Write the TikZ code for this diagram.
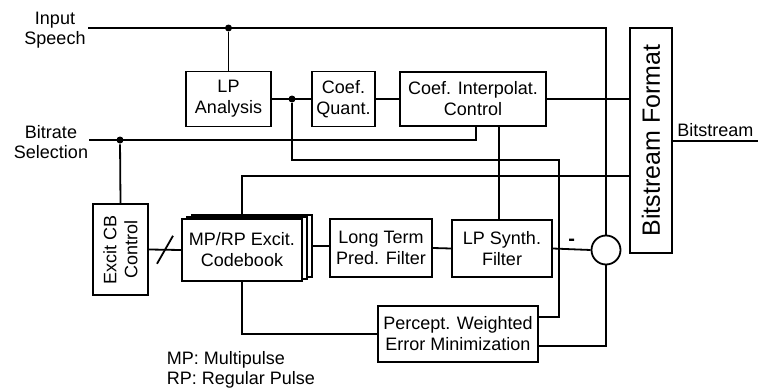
\documentclass[tikz,border=0pt]{standalone}
\usepackage{fontspec}
\setmainfont{Liberation Sans}
\usetikzlibrary{calc}
\begin{document}
\begin{tikzpicture}[x=1pt,y=-1pt,line width=1.8pt,
  box/.style={draw,align=center,inner sep=0pt,font=\fontsize{18}{21}\selectfont},
  lbl/.style={align=center,inner sep=0pt,font=\fontsize{18}{20}\selectfont},
  jdot/.style={circle,fill,inner sep=0pt,minimum size=7pt}]
\useasboundingbox (0,0) rectangle (758,388);
% blocks
\node[box,minimum width=85pt,minimum height=55pt] (lpa) at (228.5,99) {LP\\Analysis};
\node[box,minimum width=63pt,minimum height=55pt] (cq) at (343.5,99) {Coef.\\Quant.};
\node[box,minimum width=146pt,minimum height=54pt] (ci) at (473,99) {Coef. Interpolat.\\Control};
\node[box,rotate=90,minimum width=225pt,minimum height=42pt,font=\fontsize{25}{28}\selectfont] (bf) at (651,140.5) {Bitstream Format};
\node[box,rotate=90,minimum width=91pt,minimum height=55pt] (ex) at (120.5,249.5) {Excit CB\\Control};
\node[box,fill=white,minimum width=120pt,minimum height=62pt] (cbb2) at (252,246) {};
\node[box,fill=white,minimum width=120pt,minimum height=62pt] (cbb1) at (247,248) {};
\node[box,fill=white,minimum width=120pt,minimum height=62pt] (cb) at (242,250) {MP/RP Excit.\\Codebook};
\node[box,minimum width=102pt,minimum height=58pt] (ltp) at (381,248) {Long Term\\Pred. Filter};
\node[box,minimum width=100pt,minimum height=57pt] (lps) at (502,248.5) {LP Synth.\\Filter};
\node[box,minimum width=160pt,minimum height=56pt] (pw) at (458,334) {Percept. Weighted\\Error Minimization};
\node[draw,circle,minimum size=29pt,inner sep=0pt] (sum) at (606,250) {};
% labels
\node[lbl] (lin) at (55,30) {Input\\Speech};
\node[lbl] (lbr) at (51,142) {Bitrate\\Selection};
\node[lbl,align=left,anchor=west] (leg) at (166,370) {MP: Multipulse\\RP: Regular Pulse};
% coordinates
\coordinate (inS) at (88,28);
\coordinate (topR) at (606,28);
\coordinate (brS) at (89,140);
\coordinate (brE) at (476,140);
\coordinate (lpy) at (559,160);
\coordinate (yb) at (0,176);
\coordinate (v1) at (499,0);
\coordinate (bsE) at (758,141);
% connectors
\draw (inS) -- (topR) -- (sum.north);
\node[jdot] (d1) at (lpa.north |- inS) {};
\draw (d1) -- (lpa.north);
\draw (lpa.east) -- (cq.west);
\node[jdot] (d2) at (292,99) {};
\draw (d2) |- (lpy) |- ([yshift=17pt]pw.east);
\draw (cq.east) -- (ci.west);
\draw (ci.east) -- (ci.east -| bf.north);
\draw (brS) -- (brE) -- (brE |- ci.south);
\node[jdot] (d3) at (120,140) {};
\draw (d3) -- (ex.east);
\draw (cb.north |- cbb2.north) -- (cb.north |- yb) -- (yb -| bf.north);
\draw (ex.south) -- (cb.west);
\coordinate (mid) at ($(ex.south)!0.5!(cb.west)$);
\draw ([shift={(-8,14)}]mid) -- ([shift={(8,-14)}]mid);
\draw (cbb2.east) -- (cbb2.east -| ltp.west);
\draw (ltp.east) -- (lps.west);
\draw (lps.east) -- node[lbl,above=3pt,font=\fontsize{20}{20}\selectfont\bfseries] (minus) {-} (sum.west);
\draw (v1 |- ci.south) -- (v1 |- lps.north);
\draw (sum.south) |- ([yshift=-12pt]pw.east);
\draw (cb.south) |- (pw.west);
\draw (bf.south |- bsE) -- (bsE) node[lbl,pos=0.5,above=3pt] (lbs) {Bitstream};
\end{tikzpicture}
\end{document}
